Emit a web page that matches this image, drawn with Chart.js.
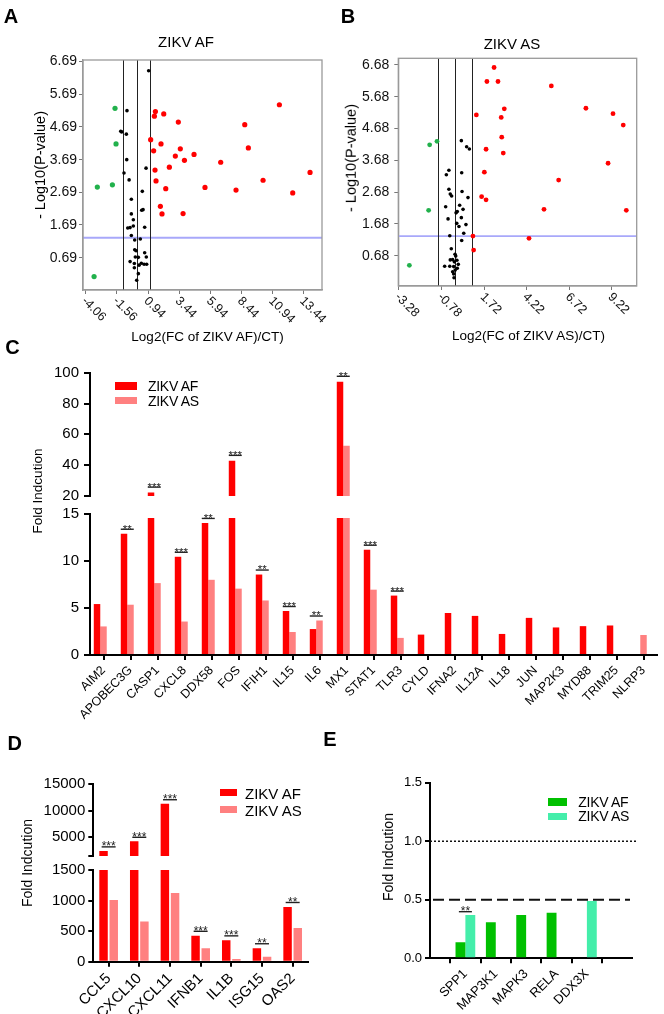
<!DOCTYPE html>
<html><head><meta charset="utf-8">
<script src="https://cdn.jsdelivr.net/npm/chart.js"></script>
<style>
html,body{margin:0;padding:0;background:#fff;}
body{position:relative;width:664px;height:1014px;overflow:hidden;font-family:"Liberation Sans",Arial,sans-serif;}
canvas{position:absolute;}
.t{position:absolute;line-height:1;white-space:nowrap;color:#000;}
.bx{position:absolute;}
</style></head><body>
<canvas id="cA" width="332" height="330" style="left:0;top:0"></canvas>
<canvas id="cB" width="332" height="330" style="left:332px;top:0"></canvas>
<canvas id="cCt" width="664" height="180" style="left:0;top:330px"></canvas>
<canvas id="cCb" width="664" height="230" style="left:0;top:500px"></canvas>
<canvas id="cDt" width="330" height="98" style="left:0;top:770px"></canvas>
<canvas id="cDb" width="330" height="156" style="left:0;top:858px"></canvas>
<canvas id="cE" width="332" height="254" style="left:332px;top:760px"></canvas>
<script>
const FONT = '"Liberation Sans", Arial, Helvetica, sans-serif';
Chart.defaults.font.family = FONT;

// ---------------- data ----------------
// Panel A (ZIKV AF volcano)
const xTicksAF = [-4.06, -1.56, 0.94, 3.44, 5.94, 8.44, 10.94, 13.44];
const yTicksAF = [0.69, 1.69, 2.69, 3.69, 4.69, 5.69, 6.69];
const foldLinesAF = [-1.1, 0.05, 1.1];
const afUp = [[11.48,5.37],[1.53,5.16],[1.45,5.02],[2.20,5.09],[3.37,4.84],[8.70,4.76],[1.15,4.30],[1.98,4.17],[3.53,4.02],[8.99,4.05],[1.39,3.96],[3.13,3.80],[4.63,3.85],[3.86,3.67],[6.77,3.61],[2.65,3.46],[1.50,3.37],[13.94,3.30],[1.58,3.04],[10.17,3.06],[5.51,2.84],[2.36,2.80],[8.00,2.76],[12.55,2.67],[1.93,2.26],[2.06,2.03],[3.75,2.04]];
const afDown = [[-1.71,5.26],[-1.63,4.17],[-3.13,2.85],[-1.92,2.92],[-3.39,0.11]];
const afNs = [[0.99,6.41],[-0.75,5.19],[-1.25,4.56],[-1.18,4.54],[-0.80,4.47],[-0.77,3.69],[-0.99,3.28],[-0.58,3.07],[0.78,3.43],[-0.40,2.48],[0.48,2.72],[-0.40,2.03],[0.43,2.14],[0.54,2.16],[-0.24,1.85],[-0.69,1.60],[-0.50,1.61],[-0.24,1.66],[0.67,1.62],[-0.40,1.37],[0.32,1.26],[-0.13,1.23],[-0.13,0.93],[-0.02,0.90],[0.67,0.84],[-0.50,0.57],[-0.08,0.71],[0.16,0.70],[0.80,0.71],[-0.16,0.51],[0.40,0.52],[0.62,0.49],[0.83,0.49],[0.22,0.46],[-0.16,0.38],[0.16,0.20],[0.03,0.00]];
// Panel B (ZIKV AS volcano)
const xTicksAS = [-3.28, -0.78, 1.72, 4.22, 6.72, 9.22];
const yTicksAS = [0.68, 1.68, 2.68, 3.68, 4.68, 5.68, 6.68];
const foldLinesAS = [-1, 0, 1];
const asUp = [[2.30,6.60],[1.88,6.16],[2.53,6.16],[5.66,6.02],[2.90,5.30],[7.69,5.32],[1.26,5.11],[2.72,5.03],[9.28,5.15],[9.88,4.79],[2.75,4.41],[1.83,4.03],[2.84,3.91],[8.99,3.59],[1.73,3.31],[6.09,3.06],[1.57,2.54],[1.83,2.44],[5.23,2.14],[10.06,2.11],[1.06,1.30],[4.35,1.23],[1.10,0.86]];
const asDown = [[-1.48,4.17],[-1.05,4.28],[-1.54,2.11],[-2.67,0.38]];
const asNs = [[0.38,4.30],[0.69,4.11],[0.85,4.04],[-0.35,3.37],[-0.50,3.23],[0.40,3.29],[-0.35,2.77],[-0.27,2.62],[-0.19,2.56],[0.42,2.70],[0.77,2.51],[-0.54,2.22],[0.28,2.27],[0.14,2.07],[0.07,2.03],[0.48,2.14],[-0.40,1.84],[0.38,1.88],[0.11,1.70],[0.24,1.60],[0.65,1.66],[0.52,1.39],[-0.30,1.31],[0.40,1.16],[-0.21,0.90],[0.01,0.73],[0.05,0.67],[-0.27,0.55],[-0.13,0.56],[0.12,0.54],[-0.03,0.49],[0.20,0.41],[-0.60,0.35],[-0.30,0.35],[-0.07,0.34],[0.14,0.29],[0.02,0.23],[-0.13,0.18],[-0.07,0.11],[-0.05,-0.01]];
const pCut = 1.3;
// Panel C
const catC = ['AIM2','APOBEC3G','CASP1','CXCL8','DDX58','FOS','IFIH1','IL15','IL6','MX1','STAT1','TLR3','CYLD','IFNA2','IL12A','IL18','JUN','MAP2K3','MYD88','TRIM25','NLRP3'];
const cAF = [5.42,12.9,22.2,10.45,14.05,42.8,8.56,4.68,2.76,94.1,11.2,6.32,2.17,4.47,4.16,2.24,3.95,2.93,3.07,3.14,null];
const cAS = [3.04,5.35,7.65,3.56,8.0,7.06,5.8,2.45,3.67,52.6,6.95,1.82,null,null,null,null,null,null,null,null,2.13];
const cSig = ['','**','***','***','**','***','**','***','**','**','***','***','','','','','','','','',''];
const cTopTicks = [20,40,60,80,100];
const cBotTicks = [0,5,10,15];
// Panel D
const catD = ['CCL5','CXCL10','CXCL11','IFNB1','IL1B','ISG15','OAS2'];
const dAF = [2460,4260,11300,424,349,220,895];
const dAS = [1008,659,1125,220,43,80,553];
const dSig = ['***','***','***','***','***','**','**'];
const dBreak = 1500;
const dTopTicks = [5000,10000,15000];
const dBotTicks = [0,500,1000,1500];
// Panel E
const catE = ['SPP1','MAP3K1','MAPK3','RELA','DDX3X'];
const eAF = [0.137,0.308,0.37,0.39,null];
const eAS = [0.37,null,null,null,0.49];
const eSig = ['**','','','',''];
const eTicks = [0,0.5,1.0,1.5];
const eRefLines = [1.0,0.5];

const RED = '#ff0000', PINK = '#ff8080', GPT = '#22b14c', GAF = '#00c000', GAS = '#44eeaa';

// ---------------- plugins ----------------
const volcPlugin = {
  id:'volc',
  beforeDatasetsDraw(chart, a, o) {
    const {ctx, chartArea:ar, scales:{x, y}} = chart;
    ctx.save();
    ctx.beginPath(); ctx.rect(ar.left, ar.top, ar.right-ar.left, ar.bottom-ar.top); ctx.clip();
    ctx.strokeStyle = 'rgb(168,168,250)'; ctx.lineWidth = 1.8;
    const py = y.getPixelForValue(o.pline);
    ctx.beginPath(); ctx.moveTo(ar.left, py); ctx.lineTo(ar.right, py); ctx.stroke();
    ctx.strokeStyle = '#222'; ctx.lineWidth = 1;
    o.vlines.forEach(v => {
      const px = Math.round(x.getPixelForValue(v)) + 0.5;
      ctx.beginPath(); ctx.moveTo(px, ar.top); ctx.lineTo(px, ar.bottom); ctx.stroke();
    });
    ctx.restore();
  },
  afterDraw(chart, a, o) {
    const {ctx, chartArea:ar, scales:{x}} = chart;
    ctx.save();
    ctx.strokeStyle = '#9a9a9a'; ctx.lineWidth = 1.3;
    ctx.strokeRect(ar.left, ar.top, ar.right-ar.left, ar.bottom-ar.top);
    ctx.fillStyle = '#111'; ctx.font = o.size + 'px ' + FONT;
    ctx.textAlign = 'left'; ctx.textBaseline = 'middle';
    x.ticks.forEach(t => {
      const px = x.getPixelForValue(t.value);
      ctx.save(); ctx.translate(px - 2, ar.bottom + 9); ctx.rotate(Math.PI/4);
      ctx.fillText(t.value.toFixed(2), 0, 0); ctx.restore();
    });
    ctx.restore();
  }
};

const sigPlugin = {
  id:'sig',
  afterDatasetsDraw(chart, args, o) {
    if (!o || !o.marks) return;
    const {ctx} = chart;
    const ys = chart.scales.y;
    const metas = chart.getSortedVisibleDatasetMetas().filter(m => chart.data.datasets[m.index].label);
    ctx.save();
    o.marks.forEach((mk, i) => {
      if (!mk) return;
      let l = Infinity, r = -Infinity, vmax = -Infinity;
      metas.forEach(m => {
        const p = m.controller.getParsed(i);
        const el = m.data[i];
        if (!p || !el || p.y == null || !isFinite(p.y)) return;
        l = Math.min(l, el.x - el.width/2); r = Math.max(r, el.x + el.width/2);
        vmax = Math.max(vmax, p.y);
      });
      if (!isFinite(vmax) || vmax > ys.max || vmax < ys.min) return;
      const top = ys.getPixelForValue(vmax);
      const cx = (l + r) / 2;
      const ly = top - o.gap;
      ctx.strokeStyle = '#222'; ctx.lineWidth = 1.4;
      ctx.beginPath(); ctx.moveTo(cx - o.lineW/2, ly); ctx.lineTo(cx + o.lineW/2, ly); ctx.stroke();
      ctx.fillStyle = '#222'; ctx.font = o.size + 'px ' + FONT;
      ctx.textAlign = 'center'; ctx.textBaseline = 'alphabetic';
      ctx.fillText(mk, cx, ly + o.size * 0.3);
    });
    ctx.restore();
  }
};

const refPlugin = {
  id:'refl',
  afterDatasetsDraw(chart, a, o) {
    if (!o || !o.lines) return;
    const {ctx, chartArea:ar, scales:{y}} = chart;
    ctx.save();
    o.lines.forEach((v, i) => {
      const st = o.styles[i];
      ctx.setLineDash([st.d1, st.d2]); ctx.lineWidth = st.w; ctx.strokeStyle = '#111';
      const py = y.getPixelForValue(v);
      ctx.beginPath(); ctx.moveTo(ar.left + st.l, py); ctx.lineTo(ar.right + st.r, py); ctx.stroke();
    });
    ctx.restore();
  }
};

// ---------------- builders ----------------
function volcano(id, up, down, ns, cfg) {
  const pts = arr => arr.map(p => ({x:p[0], y:p[1]}));
  return new Chart(document.getElementById(id), {
    type:'scatter',
    data:{datasets:[
      {data:pts(ns), backgroundColor:'#000', pointRadius:cfg.rNs, borderWidth:0},
      {data:pts(down), backgroundColor:GPT, pointRadius:cfg.r, borderWidth:0},
      {data:pts(up), backgroundColor:RED, pointRadius:cfg.r, borderWidth:0}
    ]},
    options:{
      responsive:false, animation:false, events:[],
      layout:{padding:cfg.padding},
      plugins:{legend:{display:false}, tooltip:{enabled:false}, volc:{vlines:cfg.vlines, pline:pCut, size:12.5}},
      scales:{
        x:{type:'linear', min:cfg.xMin, max:cfg.xMax,
          afterBuildTicks:s => { s.ticks = cfg.xTicks.map(v => ({value:v})); },
          afterFit:s => { s.height = cfg.xH; },
          ticks:{display:false},
          grid:{drawOnChartArea:false, drawTicks:true, tickLength:4, color:'#777', lineWidth:1},
          border:{color:'#9a9a9a', width:1.3}},
        y:{type:'linear', min:cfg.yMin, max:cfg.yMax,
          afterBuildTicks:s => { s.ticks = cfg.yTicks.map(v => ({value:v})); },
          afterFit:s => { s.width = cfg.yW; },
          ticks:{font:{size:14}, color:'#111', padding:cfg.yPad, callback:v => Number(v).toFixed(2)},
          grid:{drawOnChartArea:false, drawTicks:true, tickLength:4, color:'#777', lineWidth:1},
          border:{color:'#9a9a9a', width:1.3}}
      }
    },
    plugins:[volcPlugin]
  });
}

function yAxis(min, max, ticks, width, size, fmt, tickLen, pad) {
  return {
    type:'linear', min, max,
    afterBuildTicks:s => { s.ticks = ticks.map(v => ({value:v})); },
    afterFit:s => { s.width = width; },
    grid:{drawOnChartArea:false, drawTicks:true, tickLength:tickLen, color:'#000', lineWidth:2},
    border:{display:true, color:'#000', width:2},
    ticks:{font:{size}, color:'#000', padding:pad, callback:fmt}
  };
}
function xCat(show, height, size, tickLen) {
  return {
    type:'category', offset:true, display:show,
    afterFit:s => { s.height = height; },
    grid:{offset:false, drawOnChartArea:false, drawTicks:true, tickLength:tickLen, color:'#000', lineWidth:2},
    border:{color:'#000', width:2},
    ticks:{autoSkip:false, minRotation:45, maxRotation:45, font:{size}, color:'#000', padding:3}
  };
}
function bars(id, cfg) {
  return new Chart(document.getElementById(id), {
    type:'bar',
    data:{labels:cfg.labels, datasets:cfg.datasets},
    options:{
      responsive:false, animation:false, events:[],
      layout:{padding:cfg.padding},
      plugins:{legend:{display:false}, tooltip:{enabled:false}, sig:cfg.sig || {}, refl:cfg.refl || {}},
      scales:{x:cfg.x, y:cfg.y}
    },
    plugins:[sigPlugin, refPlugin]
  });
}

// ---------------- panels A, B ----------------
volcano('cA', afUp, afDown, afNs, {
  xMin:-4.28, xMax:14.9, yMin:-0.3, yMax:6.74, xTicks:xTicksAF, yTicks:yTicksAF,
  vlines:foldLinesAF, padding:{left:0, top:60, right:10, bottom:0}, xH:40, yW:83, yPad:2, r:2.6, rNs:1.8
});
volcano('cB', asUp, asDown, asNs, {
  xMin:-3.32, xMax:10.67, yMin:-0.27, yMax:6.89, xTicks:xTicksAS, yTicks:yTicksAS,
  vlines:foldLinesAS, padding:{left:0, top:58.3, right:27.3, bottom:0}, xH:44, yW:66.3, yPad:5, r:2.4, rNs:1.8
});

// ---------------- panel C ----------------
function cSets(clip) {
  return [
    {label:'ZIKV AF', data:cAF, backgroundColor:RED, categoryPercentage:0.72, barPercentage:1, clip},
    {label:'ZIKV AS', data:cAS, backgroundColor:PINK, categoryPercentage:0.72, barPercentage:1, clip},
    {label:'', data:[], backgroundColor:'rgba(0,0,0,0)', categoryPercentage:0.72, barPercentage:1}
  ];
}
bars('cCt', {
  labels:catC, datasets:cSets(0),
  padding:{left:0, top:42.7, right:7, bottom:12.3},
  x:xCat(false, 0, 12.5, 5),
  y:yAxis(20, 100, cTopTicks, 90, 15, v => String(v), 6, 5),
  sig:{marks:cSig, size:11.5, gap:5.5, lineW:13}
});
bars('cCb', {
  labels:catC, datasets:cSets({left:0, right:0, bottom:0, top:-4}),
  padding:{left:0, top:12, right:7, bottom:0},
  x:xCat(true, 75, 12.5, 5),
  y:yAxis(0, 15, cBotTicks, 90, 15, v => String(v), 6, 5),
  sig:{marks:cSig, size:11.5, gap:4.5, lineW:13}
});

// ---------------- panel D ----------------
function dSets(clip) {
  return [
    {label:'ZIKV AF', data:dAF, backgroundColor:RED, categoryPercentage:0.665, barPercentage:0.83, clip},
    {label:'ZIKV AS', data:dAS, backgroundColor:PINK, categoryPercentage:0.665, barPercentage:0.83, clip}
  ];
}
bars('cDt', {
  labels:catD, datasets:dSets(0),
  padding:{left:0, top:14, right:22, bottom:10.3},
  x:xCat(false, 0, 15, 5),
  y:yAxis(dBreak, 15000, [dBreak].concat(dTopTicks), 93.3, 15, v => dTopTicks.includes(v) ? String(v) : '', 5, 3),
  sig:{marks:dSig, size:12, gap:4, lineW:14}
});
bars('cDb', {
  labels:catD, datasets:dSets(0),
  padding:{left:0, top:10.3, right:22, bottom:0},
  x:xCat(true, 52.3, 15, 5),
  y:yAxis(0, dBreak, dBotTicks, 93.3, 15, v => String(v), 5, 3),
  sig:{marks:dSig, size:12, gap:4.5, lineW:14}
});

// ---------------- panel E ----------------
const eX = {
  type:'linear', min:-0.5, max:4.82,
  afterBuildTicks:s => { s.ticks = catE.map((c, i) => ({value:i})); },
  afterFit:s => { s.height = 55.7; },
  grid:{drawOnChartArea:false, drawTicks:true, tickLength:5, color:'#000', lineWidth:2},
  border:{color:'#000', width:2},
  ticks:{autoSkip:false, minRotation:45, maxRotation:45, font:{size:13}, color:'#000', padding:3, callback:v => catE[v]}
};
bars('cE', {
  datasets:[
    {label:'ZIKV AF', data:catE.map((c, i) => ({x:i, y:eAF[i]})), backgroundColor:GAF, categoryPercentage:0.65, barPercentage:1},
    {label:'ZIKV AS', data:catE.map((c, i) => ({x:i, y:eAS[i]})), backgroundColor:GAS, categoryPercentage:0.65, barPercentage:1}
  ],
  padding:{left:0, top:22.7, right:32, bottom:0},
  x:eX,
  y:yAxis(0, 1.5, eTicks, 98, 13, v => Number(v).toFixed(1), 5, 3),
  sig:{marks:eSig, size:12, gap:3.3, lineW:13},
  refl:{lines:eRefLines, styles:[{d1:2, d2:2, w:1.5, l:0, r:6}, {d1:11, d2:5, w:2, l:3, r:-2}]}
});

// ---------------- html text ----------------
function txt(s, x, y, size, o) {
  o = o || {};
  const d = document.createElement('div');
  d.className = 't'; d.textContent = s;
  let tf = o.left ? 'translate(0,-50%)' : 'translate(-50%,-50%)';
  if (o.rot) tf += ' rotate(' + o.rot + 'deg)';
  d.style.cssText = 'left:' + x + 'px;top:' + y + 'px;font-size:' + size + 'px;font-weight:' + (o.bold ? 'bold' : 'normal') + ';transform:' + tf + ';' + (o.ls ? 'letter-spacing:' + o.ls + 'px;' : '');
  document.body.appendChild(d);
}
function box(x, y, w, h, c) {
  const d = document.createElement('div');
  d.className = 'bx';
  d.style.cssText = 'left:' + x + 'px;top:' + y + 'px;width:' + w + 'px;height:' + h + 'px;background:' + c + ';';
  document.body.appendChild(d);
}
txt('A', 11, 15.5, 20, {bold:true});
txt('B', 348, 15.5, 20, {bold:true});
txt('C', 12.5, 346.5, 20, {bold:true});
txt('D', 14.7, 743.3, 20, {bold:true});
txt('E', 330, 739, 20, {bold:true});
txt('ZIKV AF', 186, 41, 15);
txt('ZIKV AS', 512, 42.5, 15);
txt('- Log10(P-value)', 40, 165, 14.5, {rot:-90});
txt('- Log10(P-value)', 351, 158, 14.5, {rot:-90});
txt('Log2(FC of ZIKV AF)/CT)', 207.5, 337, 13.5);
txt('Log2(FC of ZIKV AS)/CT)', 528.5, 336, 13.5);
txt('Fold Indcution', 38, 491, 13.5, {rot:-90});
txt('Fold Indcution', 27, 863, 14, {rot:-90});
txt('Fold Indcution', 388, 857, 14, {rot:-90});
// legends
box(115, 381.5, 22, 8, RED); txt('ZIKV AF', 148, 385.5, 14, {left:true, ls:-0.3});
box(115, 396.7, 22, 7.6, PINK); txt('ZIKV AS', 148, 400.5, 14, {left:true, ls:-0.3});
box(220, 789.3, 17, 7, RED); txt('ZIKV AF', 245, 792.7, 15, {left:true});
box(220, 806, 17, 7.3, PINK); txt('ZIKV AS', 245, 809.7, 15, {left:true});
box(548.3, 798.3, 19, 7.7, GAF); txt('ZIKV AF', 578.3, 802, 14, {left:true, ls:-0.3});
box(548.3, 812.7, 19, 7.3, GAS); txt('ZIKV AS', 578.3, 816.3, 14, {left:true, ls:-0.3});
</script>
</body></html>
